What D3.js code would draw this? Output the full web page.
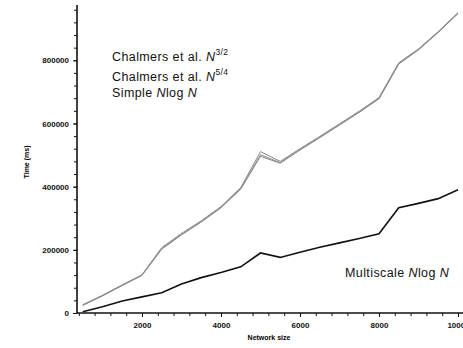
<!DOCTYPE html>
<html>
<head>
<meta charset="utf-8">
<script src="https://cdn.jsdelivr.net/npm/d3@7"></script>
<style>
  body { margin: 0; background: #fff; }
  svg { display: block; font-family: "Liberation Sans", Arial, sans-serif; }
  .axis path, .axis line { stroke: #111; }
  .axis text { font-size: 8px; font-weight: bold; fill: #111; }
</style>
</head>
<body>
<script>

var width = 463, height = 348;
var margin = {top: 5, right: 5, bottom: 35, left: 77};

// network sizes (x)
var sizes = [500, 1000, 1500, 2000, 2500, 3000, 3500, 4000, 4500, 5000,
             5500, 6000, 6500, 7000, 7500, 8000, 8500, 9000, 9500, 10000];

// times in ms
var chalmers32 = [26000, 56000, 89000, 121000, 207000, 252000, 292000, 337000, 397000, 511000,
                  480000, 520000, 559000, 599000, 639000, 682000, 792000, 836000, 891000, 951000];
var chalmers54 = [25000, 55000, 88000, 120000, 204000, 249000, 289000, 334000, 394000, 501000,
                  476000, 517000, 556000, 596000, 636000, 679000, 789000, 834000, 889000, 949000];
var simpleNlogN = [24000, 54000, 87000, 119000, 202000, 247000, 288000, 333000, 392000, 496000,
                   474000, 516000, 555000, 595000, 635000, 678000, 788000, 833000, 888000, 948000];
var multiscale = [4000, 20000, 38000, 51000, 64000, 92000, 112000, 128000, 146000, 190000,
                  176000, 192000, 208000, 222000, 236000, 251000, 333000, 347000, 362000, 390000];

var xMajor = [2000, 4000, 6000, 8000, 10000];
var yMajor = [0, 200000, 400000, 600000, 800000];

var svg = d3.select("body").append("svg")
    .attr("width", width)
    .attr("height", height);

var x = d3.scaleLinear().domain([355, 10000]).range([margin.left, 458]);
var y = d3.scaleLinear().domain([0, 975000]).range([313, margin.top]);

// minor ticks
svg.append("g")
    .attr("class", "axis")
    .attr("transform", "translate(0,313)")
    .call(d3.axisBottom(x).tickValues(d3.range(400, 10001, 400)).tickSize(3).tickFormat(""))
    .call(function(g) { g.select(".domain").remove(); });

svg.append("g")
    .attr("class", "axis")
    .attr("transform", "translate(" + margin.left + ",0)")
    .call(d3.axisLeft(y).tickValues(d3.range(40000, 970000, 40000)).tickSize(3).tickFormat(""))
    .call(function(g) { g.select(".domain").remove(); });

// major ticks + labels
svg.append("g")
    .attr("class", "axis")
    .attr("transform", "translate(0,313)")
    .call(d3.axisBottom(x).tickValues(xMajor).tickSize(4).tickPadding(5).tickFormat(d3.format("d")))
    .call(function(g) { g.select(".domain").remove(); });

svg.append("g")
    .attr("class", "axis")
    .attr("transform", "translate(" + margin.left + ",0)")
    .call(d3.axisLeft(y).tickValues(yMajor).tickSize(4).tickPadding(4).tickFormat(d3.format("d")))
    .call(function(g) { g.select(".domain").remove(); });

// axis lines
svg.append("line")
    .attr("x1", margin.left).attr("x2", width)
    .attr("y1", 313).attr("y2", 313)
    .attr("stroke", "#111").attr("stroke-width", 1.6);
svg.append("line")
    .attr("x1", margin.left).attr("x2", margin.left)
    .attr("y1", margin.top).attr("y2", 313)
    .attr("stroke", "#111").attr("stroke-width", 1.6);

var line = d3.line()
    .x(function(d, i) { return x(sizes[i]); })
    .y(function(d) { return y(d); });

[chalmers32, chalmers54, simpleNlogN].forEach(function(s) {
    svg.append("path")
        .datum(s)
        .attr("fill", "none")
        .attr("stroke", "#8a8a8a")
        .attr("stroke-width", 1)
        .attr("d", line);
});

svg.append("path")
    .datum(multiscale)
    .attr("fill", "none")
    .attr("stroke", "#111")
    .attr("stroke-width", 1.6)
    .attr("d", line);

// labels
function label(t, xPos, yPos, sup) {
    var txt = svg.append("text")
        .attr("x", xPos).attr("y", yPos)
        .attr("font-size", 12.5)
        .attr("letter-spacing", 0.4)
        .attr("fill", "#111");
    t.forEach(function(p) {
        txt.append("tspan")
            .attr("font-style", p[1] ? "italic" : null)
            .text(p[0]);
    });
    if (sup) {
        txt.append("tspan")
            .attr("font-size", 8.5)
            .attr("dy", -6)
            .text(sup);
    }
}

label([["Chalmers et al. ", false], ["N", true]], 112, 61, "3/2");
label([["Chalmers et al. ", false], ["N", true]], 112, 81, "5/4");
label([["Simple ", false], ["N", true], ["log ", false], ["N", true]], 112, 97);
label([["Multiscale ", false], ["N", true], ["log ", false], ["N", true]], 345, 277);

svg.append("text")
    .attr("x", 269).attr("y", 340)
    .attr("text-anchor", "middle")
    .attr("font-size", 7).attr("font-weight", "bold")
    .text("Network size");

svg.append("text")
    .attr("transform", "translate(29,162) rotate(-90)")
    .attr("text-anchor", "middle")
    .attr("font-size", 7).attr("font-weight", "bold")
    .text("Time (ms)");

</script>
</body>
</html>
